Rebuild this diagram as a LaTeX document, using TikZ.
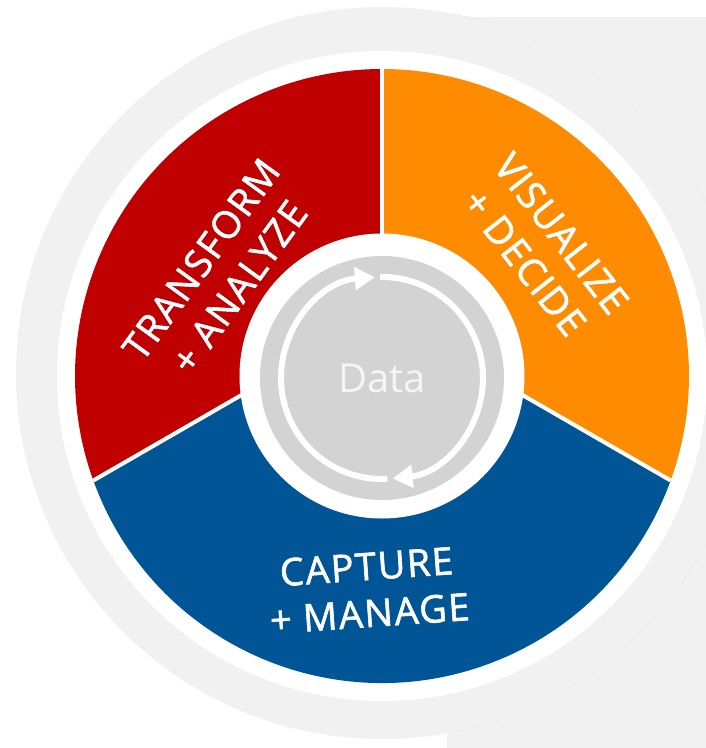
\documentclass[tikz,border=0pt]{standalone}
\usepackage{fontspec}
\usetikzlibrary{arrows.meta,calc}
\newfontfamily\labelfont{Open Sans}[LetterSpace=4,FakeBold=1.6]
\newfontfamily\datafont{Open Sans}
\definecolor{bggray}{HTML}{F1F1F1}
\definecolor{ringgray}{HTML}{EBEBEB}
\definecolor{coregray}{HTML}{D3D3D3}
\definecolor{tfred}{HTML}{C00000}
\definecolor{vdorange}{HTML}{FF8C00}
\definecolor{cmblue}{HTML}{005596}

\begin{document}
\begin{tikzpicture}[x=1pt,y=1pt,
    divider/.style={draw=white,line width=4pt},
    turn/.style={draw=white,line width=6pt,-{Triangle[length=20pt,width=22pt]}},
    stage/.style={text=white,align=center,font=\labelfont\fontsize{38}{47}\selectfont}]

      \useasboundingbox (-382,-372) rectangle (324,376);

      % backdrop
      \fill[bggray] (65,-372) rectangle (324,359);
      \fill[bggray] (0,3) circle[radius=366pt];
      \draw[ringgray,line width=0.8pt] ([shift={(79:366pt)}]0,3) arc[start angle=79,end angle=-79,radius=366pt];
      \fill[white] (0,0) circle[radius=325pt];

      \coordinate (hub) at (0,62);
      \coordinate (topend) at (90:307pt);
      \coordinate (leftend) at (199.9:307pt);
      \coordinate (rightend) at (340.1:307pt);

      \fill[tfred] (hub) -- (topend) arc[start angle=90,end angle=199.9,radius=307pt] -- cycle;
      \fill[vdorange] (hub) -- (topend) arc[start angle=90,end angle=-19.9,radius=307pt] -- cycle;
      \fill[cmblue] (hub) -- (leftend) arc[start angle=199.9,end angle=340.1,radius=307pt] -- cycle;

      \draw[divider] (hub) -- (topend);
      \draw[divider] (hub) -- (leftend);
      \draw[divider] (hub) -- (rightend);

      % data core
      \fill[white] (0,0) circle[radius=142.5pt];
      \coordinate (core) at (0,-2);
      \fill[coregray] (core) circle[radius=122pt];
      \draw[turn] ([shift={(273:101pt)}]core) arc[start angle=273,end angle=94,radius=101pt];
      \draw[turn] ([shift={(91:101pt)}]core) arc[start angle=91,end angle=-84,radius=101pt];

      \node[text=white!96!black,font=\datafont\fontsize{40}{48}\selectfont] (data) at (core) {Data};

      \node[stage,rotate=54] (trans) at (-162,103) {TRANSFORM\\+ ANALYZE};
      \node[stage,rotate=-52] (vis) at (161,128) {VISUALIZE\\+ DECIDE};
      \node[stage,rotate=4] (cap) at (-14,-214) {CAPTURE\\+ MANAGE};

\end{tikzpicture}
\end{document}
